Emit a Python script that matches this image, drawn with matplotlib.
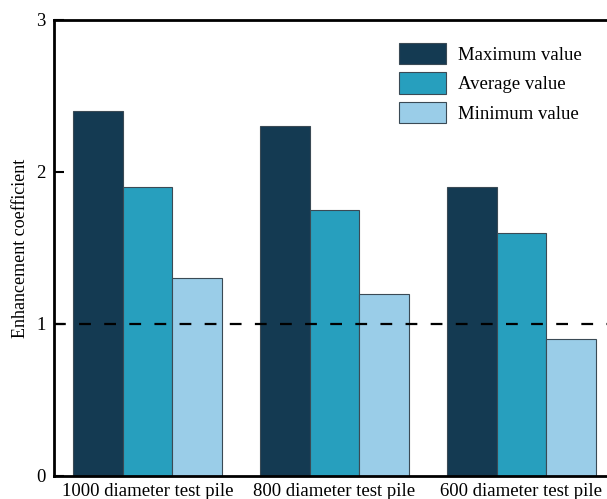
import matplotlib
matplotlib.use("Agg")
import matplotlib.pyplot as plt
import numpy as np

categories = ["1000 diameter test pile", "800 diameter test pile", "600 diameter test pile"]
series_names = ["Maximum value", "Average value", "Minimum value"]
max_vals = [2.4, 2.3, 1.9]
avg_vals = [1.9, 1.75, 1.6]
min_vals = [1.3, 1.2, 0.9]
colors = ["#143A52", "#279FBE", "#9ACDE8"]
yticks = [0, 1, 2, 3]

plt.rcParams['font.family'] = ['Liberation Serif', 'DejaVu Serif']

fig = plt.figure(figsize=(6.07, 4.99), dpi=100)
ax = fig.add_axes([54/607, 23/499, 561/607, 456/499])

x = np.arange(len(categories))
w = 0.8 / 3
for i, (vals, c, name) in enumerate(zip([max_vals, avg_vals, min_vals], colors, series_names)):
    ax.bar(x + (i - 1) * w, vals, width=w, color=c, edgecolor="#3a4a55", linewidth=0.8,
           label=name, zorder=2)

ax.axhline(1, color="black", linestyle=(0, (5.3, 6)), linewidth=1.6, zorder=3)

ax.set_xlim(-0.5, 2.5)
ax.set_ylim(0, 3)
ax.set_yticks(yticks)
ax.set_xticks(x)
ax.set_xticklabels(categories, fontsize=13.5)
ax.tick_params(axis='x', length=0, pad=5)
ax.tick_params(axis='y', direction='in', length=7, width=1.5, labelsize=13.5, pad=6)
ax.set_ylabel("Enhancement coefficient", fontsize=13, labelpad=5)
for s in ax.spines.values():
    s.set_linewidth(2)
ax.spines['right'].set_visible(False)

leg = ax.legend(loc='upper left', bbox_to_anchor=(399/607, 1 - 43/499), bbox_transform=fig.transFigure,
                frameon=False, fontsize=13.5, handlelength=2.5, handleheight=1.35,
                labelspacing=0.45, handletextpad=0.65, borderaxespad=0, borderpad=0)

fig.savefig("out.png", dpi=100)
